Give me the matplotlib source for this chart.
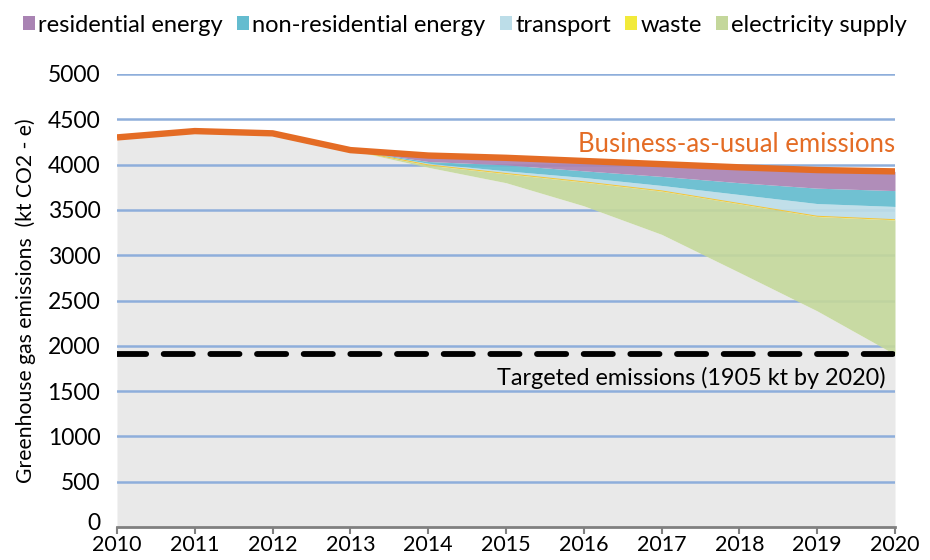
import matplotlib
matplotlib.use("Agg")
import matplotlib.pyplot as plt
import matplotlib.transforms as mtransforms
from matplotlib.patches import Patch
import numpy as np

plt.rcParams['font.family'] = ['Lato', 'DejaVu Sans']

years = [2010, 2011, 2012, 2013, 2014, 2015, 2016, 2017, 2018, 2019, 2020]
bau = [4300, 4370, 4345, 4160, 4100, 4075, 4040, 4005, 3970, 3940, 3925]
remaining = [4300, 4370, 4345, 4160, 3970, 3800, 3545, 3230, 2810, 2385, 1905]
electricity = [0, 0, 0, 0, 24, 99, 262, 477, 757, 1042, 1484]
waste = [0, 0, 0, 0, 3, 3, 3, 3, 3, 3, 3]
transport = [0, 0, 0, 0, 18, 29, 48, 60, 100, 140, 146]
non_residential = [0, 0, 0, 0, 19, 66, 73, 100, 130, 170, 175]
residential = [0, 0, 0, 0, 66, 78, 109, 135, 170, 200, 212]
target = 1905

series_names = ['residential energy', 'non-residential energy', 'transport', 'waste', 'electricity supply']
colors = {'residential energy': '#a983b3', 'non-residential energy': '#64bccf',
          'transport': '#bcdde8', 'waste': '#f2ea3a', 'electricity supply': '#c4d79b'}

fig = plt.figure(figsize=(9.3, 5.6), dpi=100)
ax = fig.add_axes([117/930, 1-527/560, (895-117)/930, (527-74)/560])

x = np.array(years)
base = np.array(remaining, dtype=float)
ax.fill_between(x, 0, base, color='#e9e9e9', lw=0, zorder=1)
stack = [('electricity supply', electricity), ('waste', waste), ('transport', transport),
         ('non-residential energy', non_residential), ('residential energy', residential)]
cur = base.copy()
for name, vals in stack:
    top = cur + np.array(vals, dtype=float)
    ax.fill_between(x, cur, top, color=colors[name], lw=0, zorder=2, alpha=0.92)
    if name == 'waste':
        ax.plot(x[3:], top[3:], color='#f7c531', lw=0.7, zorder=3)
    cur = top

ax.plot(x, bau, color='#e46c25', lw=4.6, zorder=6, solid_capstyle='butt')

for v in range(500, 5001, 500):
    ax.axhline(v, color='#8eaedb', lw=1.8, zorder=1.5)

ax.plot([2010, 2020], [target, target], color='black', lw=4.2, zorder=5,
        linestyle=(0, (5.0, 3.0)), dash_capstyle='round')

ax.set_xlim(2010, 2020)
ax.set_ylim(0, 5000)
ax.set_xticks(years)
ax.set_yticks(range(0, 5001, 500))
ax.tick_params(axis='y', length=0, labelsize=16.5, pad=12)
ax.tick_params(axis='x', length=5, width=1.5, color='#808080', labelsize=15.5, pad=1, direction='out')
for s in ['top', 'right', 'left']:
    ax.spines[s].set_visible(False)
ax.spines['bottom'].set_color('#808080')
ax.spines['bottom'].set_linewidth(2)
ax.spines['bottom'].set_zorder(7)

# lift the "0" label slightly so it does not touch the "2010" label
zero_lbl = ax.get_yticklabels()[0]
zero_lbl.set_transform(zero_lbl.get_transform() +
                       mtransforms.ScaledTranslation(0, 6/100, fig.dpi_scale_trans))

ax.set_ylabel('Greenhouse gas emissions  (kt CO2 - e)', fontsize=15.2, labelpad=8)

ax.text(2020, 4225, 'Business-as-usual emissions', color='#e46c25', fontsize=18.5,
        ha='right', va='center', zorder=8)
ax.text(2019.88, 1650, 'Targeted emissions (1905 kt by 2020)', color='black', fontsize=16.8,
        ha='right', va='center', zorder=8)

handles = [Patch(facecolor=colors[n], edgecolor='none') for n in series_names]
fig.legend(handles, series_names, loc='center', bbox_to_anchor=(0.5, 1-25/560), ncol=5,
           frameon=False, fontsize=17, handlelength=0.5, handleheight=0.5,
           handletextpad=0.15, columnspacing=0.6, borderaxespad=0)

fig.savefig('out.png', dpi=100)
